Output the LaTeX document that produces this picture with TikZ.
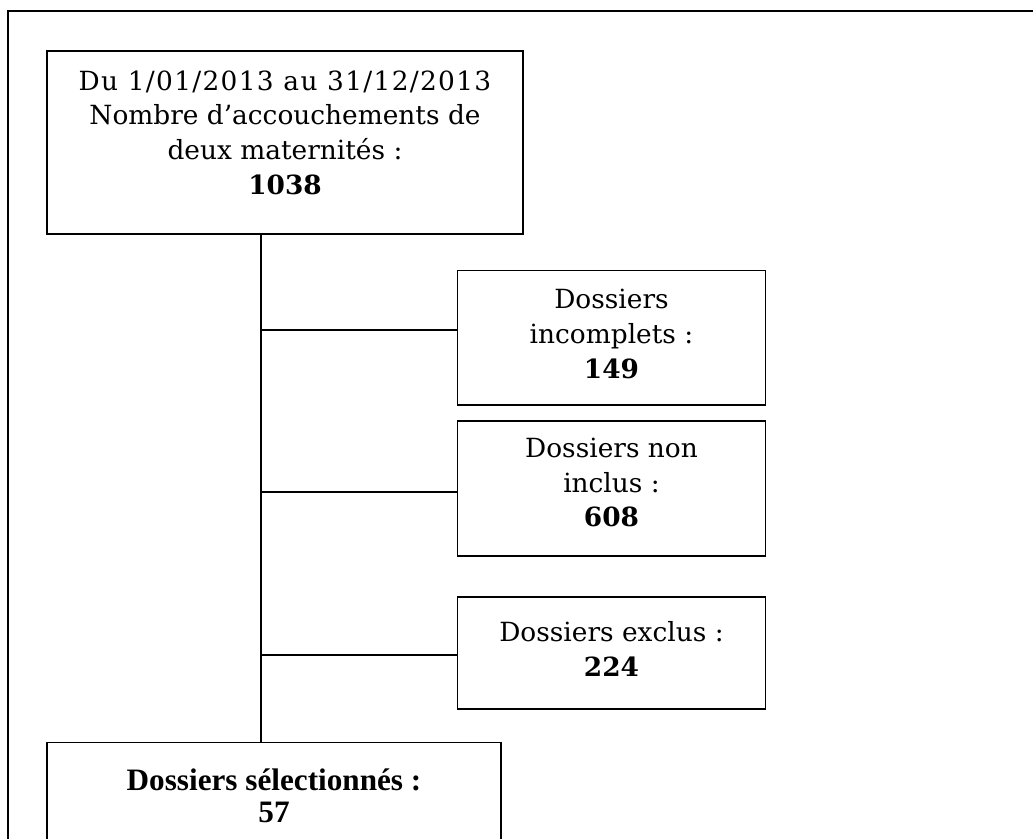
\documentclass[tikz,border=0pt]{standalone}
\usepackage{fontspec}
\setmainfont{DejaVu Serif}
\newfontfamily\timesfont{Liberation Serif}
\newcommand\lift[1]{\rule[-#1]{0pt}{#1}}

\begin{document}
\begin{tikzpicture}[x=0.5pt,y=-0.5pt,
	box/.style={draw,line width=0.7pt,align=center,inner sep=0pt,
		font=\fontsize{13.2}{17.35}\selectfont},
	link/.style={line width=0.6pt}]
\clip (0,0) rectangle (1033,839);
\draw [line width=1pt] (8,11.5) rectangle (1050,860);
\node (start) at (285,142.5) [box,minimum width=238pt,minimum height=91.5pt] {{\addfontfeatures{LetterSpace=5}Du 1/01/2013 au 31/12/2013}\\ Nombre d’accouchements de\\ deux maternités :\\ \textbf{1038}\lift{10pt}};
\node (incompl) at (611.5,337.75) [box,minimum width=154pt,minimum height=67.25pt] {Dossiers\\ incomplets :\\ \textbf{149}\lift{4pt}};
\node (noninc) at (611.5,488.5) [box,minimum width=154pt,minimum height=67.5pt] {Dossiers non\\ inclus :\\ \textbf{608}\lift{6pt}};
\node (exclus) at (611.5,653) [box,minimum width=154pt,minimum height=56pt] {Dossiers exclus :\\ \textbf{224}\lift{4pt}};
\node (select) at (274,796) [box,minimum width=227pt,minimum height=53.3pt,
	font=\timesfont\bfseries\fontsize{15.6}{16}\selectfont] {Dossiers sélectionnés :\\ 57};
\coordinate (t0) at (261,234);
\coordinate (t1) at (261,330);
\coordinate (t2) at (261,492);
\coordinate (t3) at (261,655);
\draw [link] (t0 |- start.south) -- (t0 |- select.north);
\draw [link] (t1) -- (t1 -| incompl.west);
\draw [link] (t2) -- (t2 -| noninc.west);
\draw [link] (t3) -- (t3 -| exclus.west);
\end{tikzpicture}
\end{document}
